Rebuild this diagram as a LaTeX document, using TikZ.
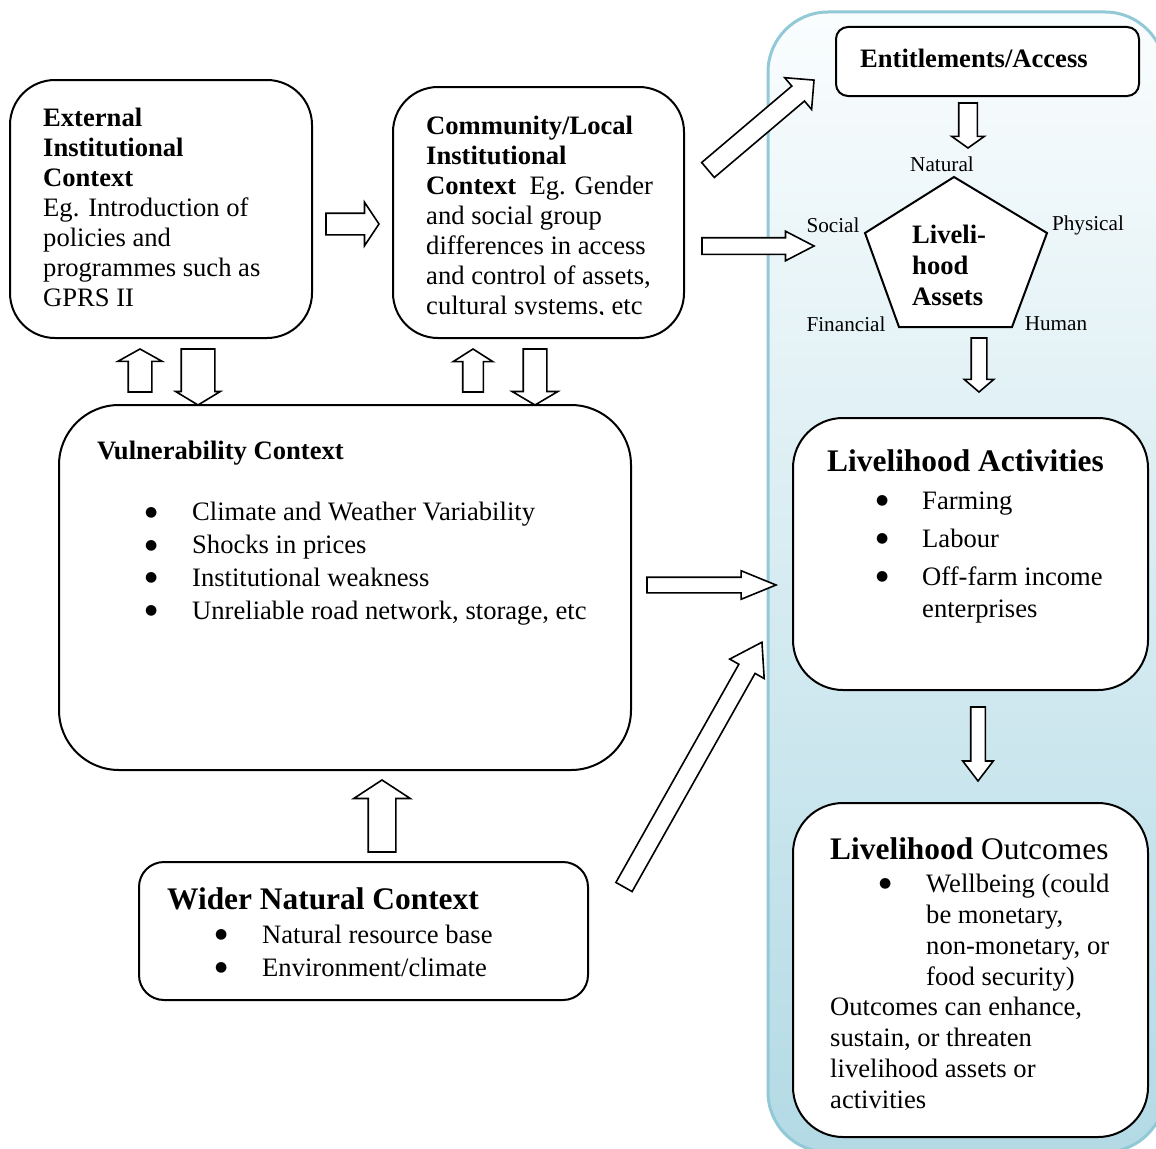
\documentclass[tikz,border=0pt]{standalone}
\usepackage{fontspec}
\setmainfont{Liberation Serif}
\newfontfamily\symfont{DejaVu Sans}
\usetikzlibrary{shapes.arrows, shapes.geometric}

\definecolor{panelTop}{HTML}{FAFDFE}
\definecolor{panelBottom}{HTML}{B3DAE5}
\definecolor{panelLine}{HTML}{92C9D7}

\newcommand{\txt}{\fontsize{26.6}{30}\selectfont}
\newcommand{\txtbig}{\fontsize{31.4}{36}\selectfont}
\newcommand{\txtsmall}{\fontsize{21.2}{24}\selectfont}
\newcommand{\bul}[1]{\makebox[#1][l]{\raisebox{4.5pt}{\symfont\fontsize{14}{14}\selectfont ●}}}

\begin{document}
\begin{tikzpicture}[
    x=1pt, y=-1pt,
    ctxbox/.style={draw, line width=2pt, fill=white, rounded corners=#1, inner sep=0pt, outer sep=0pt},
    blockarrow/.style={draw, line width=1.6pt, fill=white, single arrow, single arrow head indent=0pt, inner xsep=0pt, outer sep=0pt, anchor=tail},
    boxtext/.style={anchor=base west, inner sep=0pt, align=left, font=\txt},
    assetlabel/.style={inner sep=0pt, font=\txtsmall}
]
    \useasboundingbox (0,0) rectangle (1156,1148);
    \clip (0,0) rectangle (1156,1148);

    % ================= LIVELIHOOD PANEL =================
    \draw[panelLine, line width=3pt, top color=panelTop, bottom color=panelBottom, rounded corners=60pt]
        (768,12) rectangle (1165,1152);

    % ================= BOXES =================
    \node[ctxbox=45pt, minimum width=302pt, minimum height=258pt] (EXT) at (161,209) {};
    \node[ctxbox=45pt, minimum width=291pt, minimum height=251pt] (COM) at (538.5,212.5) {};
    \node[ctxbox=12pt, minimum width=303pt, minimum height=69pt] (ENT) at (987.5,61.5) {};
    \node[ctxbox=60pt, minimum width=572pt, minimum height=365pt] (VUL) at (345,587.5) {};
    \node[ctxbox=25pt, minimum width=449pt, minimum height=138pt] (WID) at (363.5,931) {};
    \node[ctxbox=50pt, minimum width=355pt, minimum height=272pt] (ACT) at (970.5,554) {};
    \node[ctxbox=50pt, minimum width=355pt, minimum height=334pt] (OUT) at (970.5,970) {};

    % ================= BOX TEXTS =================
    % (multi-line texts sit on the baseline of their last line)
    \node[boxtext] (EXTtxt) at (43,306)
        {\textbf{External}\\\textbf{Institutional}\\\textbf{Context}\\Eg. Introduction of\\policies and\\programmes such as\\GPRS II};
    \begin{scope}
        \clip (395,90) rectangle (682,314);
        \node[boxtext] (COMtxt) at (426,314)
            {\textbf{Community/Local}\\\textbf{Institutional}\\\textbf{Context}\hspace{0.25em} Eg. Gender\\and social group\\differences in access\\and control of assets,\\cultural systems, etc};
    \end{scope}
    \node[boxtext, font=\txt\bfseries] (ENTtxt) at (860,67) {Entitlements/Access};

    \node[boxtext, font=\txt\bfseries] (VULtitle) at (97,459) {Vulnerability Context};
    \node[boxtext, font=\fontsize{26.6}{32.7}\selectfont] (VULlist) at (145,619)
        {\bul{47pt}Climate and Weather Variability\\\bul{47pt}Shocks in prices\\\bul{47pt}Institutional weakness\\\bul{47pt}Unreliable road network, storage, etc};

    \node[boxtext, font=\txtbig\bfseries] (WIDtitle) at (167,909) {Wider Natural Context};
    \node[boxtext, font=\fontsize{26.6}{33}\selectfont] (WIDlist) at (215,976)
        {\bul{47pt}Natural resource base\\\bul{47pt}Environment/climate};

    \node[boxtext, font=\txtbig\bfseries] (ACTtitle) at (827,471) {Livelihood Activities};
    \node[boxtext, font=\fontsize{26.6}{32}\selectfont] (ACTlist) at (876,617)
        {\bul{46pt}Farming\\[6pt]\bul{46pt}Labour\\[6pt]\bul{46pt}Off-farm income\\\hspace*{46pt}enterprises};

    \node[boxtext, font=\txtbig] (OUTtitle) at (830,859) {\textbf{Livelihood} Outcomes};
    \node[boxtext, font=\fontsize{26.6}{31}\selectfont] (OUTlist) at (879,985)
        {\bul{47pt}Wellbeing (could\\\hspace*{47pt}be monetary,\\\hspace*{47pt}non-monetary, or\\\hspace*{47pt}food security)};
    \node[boxtext, font=\fontsize{26.6}{30.7}\selectfont] (OUTnote) at (830,1108)
        {Outcomes can enhance,\\sustain, or threaten\\livelihood assets or\\activities};

    % ================= ASSET PENTAGON =================
    \coordinate (pN) at (954,177);
    \coordinate (pP) at (1047,233);
    \coordinate (pH) at (1012,327);
    \coordinate (pF) at (899,327);
    \coordinate (pS) at (865,233);
    \draw[line width=2pt, fill=white] (pN) -- (pP) -- (pH) -- (pF) -- (pS) -- cycle;
    \node[boxtext, font=\fontsize{26.6}{31}\selectfont\bfseries] (ASSETS) at (912,305) {Liveli-\\hood\\Assets};

    \node[assetlabel] (NAT) at (942,164) {Natural};
    \node[assetlabel] (SOC) at (833,225) {Social};
    \node[assetlabel] (PHY) at (1088,225) {Physical};
    \node[assetlabel] (FIN) at (846,324) {Financial};
    \node[assetlabel] (HUM) at (1056,324) {Human};

    % ================= BLOCK ARROWS =================
    \node[blockarrow, minimum height=53pt, inner ysep=10pt, single arrow head extend=11pt, single arrow tip angle=112.6] (A1) at (326,224) {};
    \node[blockarrow, rotate=90, minimum height=43pt, inner ysep=11pt, single arrow head extend=10.5pt, single arrow tip angle=121.7] (A2) at (140,392) {};
    \node[blockarrow, rotate=-90, minimum height=56pt, inner ysep=16pt, single arrow head extend=5.5pt, single arrow tip angle=117.7] (A3) at (198,349) {};
    \node[blockarrow, rotate=90, minimum height=43pt, inner ysep=9.5pt, single arrow head extend=9.5pt, single arrow tip angle=115] (A4) at (473,392) {};
    \node[blockarrow, rotate=-90, minimum height=56pt, inner ysep=11pt, single arrow head extend=11pt, single arrow tip angle=118.9] (A5) at (535,349) {};
    \node[blockarrow, rotate=40.3, minimum height=139pt, inner ysep=9pt, single arrow head extend=11pt, single arrow tip angle=90] (A6) at (708,170) {};
    \node[blockarrow, minimum height=112pt, inner ysep=7.5pt, single arrow head extend=6.5pt, single arrow tip angle=54.8] (A7) at (702,246) {};
    \node[blockarrow, rotate=-90, minimum height=45pt, inner ysep=8.5pt, single arrow head extend=7pt, single arrow tip angle=109] (A8) at (968,103) {};
    \node[blockarrow, rotate=-90, minimum height=54pt, inner ysep=7pt, single arrow head extend=7pt, single arrow tip angle=99] (A9) at (979,338) {};
    \node[blockarrow, minimum height=129pt, inner ysep=7pt, single arrow head extend=6.5pt, single arrow tip angle=44.5] (A10) at (647,585) {};
    \node[blockarrow, rotate=60.6, minimum height=281pt, inner ysep=8.5pt, single arrow head extend=10.5pt, single arrow tip angle=65.9] (A11) at (624,887) {};
    \node[blockarrow, rotate=-90, minimum height=74pt, inner ysep=6.5pt, single arrow head extend=8pt, single arrow tip angle=74.7] (A12) at (978,707) {};
    \node[blockarrow, rotate=90, minimum height=72pt, inner ysep=13pt, single arrow head extend=14.5pt, single arrow tip angle=113.6] (A13) at (382,852) {};

\end{tikzpicture}
\end{document}
